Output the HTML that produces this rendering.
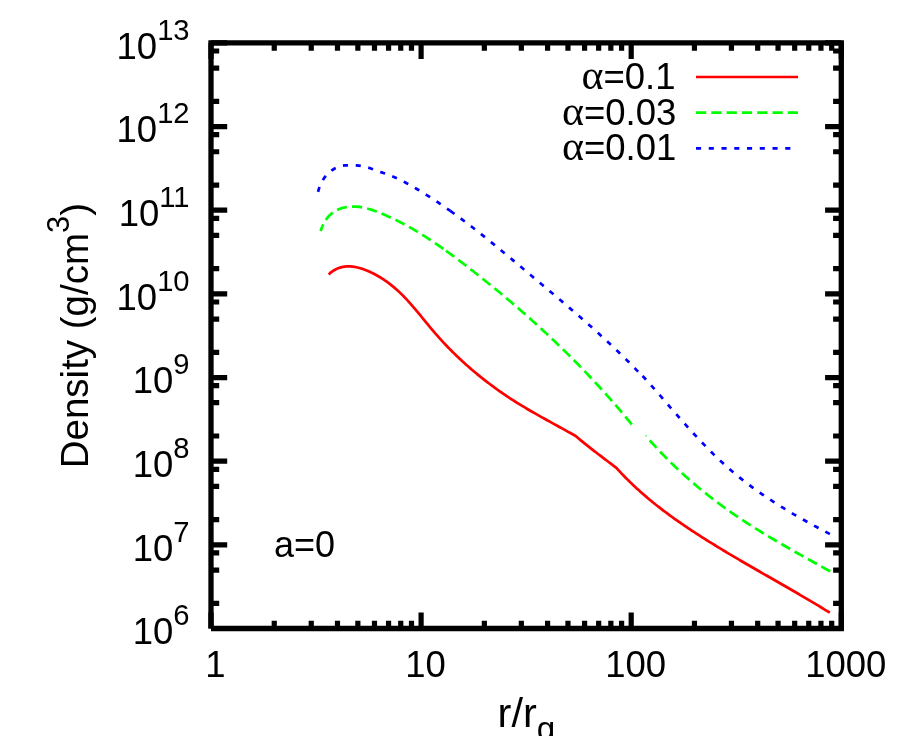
<!DOCTYPE html>
<html><head><meta charset="utf-8"><title>Density</title>
<style>html,body{margin:0;padding:0;background:#fff}body{width:900px;height:736px;overflow:hidden}svg{display:block;will-change:transform}.s{font-family:"Liberation Sans",sans-serif;fill:#000}.f{font-family:"Liberation Serif",serif;fill:#000}</style>
</head><body>
<svg width="900" height="736" viewBox="0 0 900 736">
<rect width="900" height="736" fill="#fff"/>
<path d="M328.64,274.39 L330.28,272.91 L331.96,271.60 L333.70,270.45 L335.47,269.45 L337.28,268.61 L339.12,267.91 L340.99,267.34 L342.88,266.92 L344.80,266.62 L346.72,266.45 L348.66,266.40 L350.60,266.46 L352.54,266.63 L354.49,266.90 L356.42,267.27 L358.36,267.72 L360.28,268.25 L362.20,268.85 L364.11,269.52 L366.00,270.24 L367.88,271.00 L369.74,271.82 L371.58,272.67 L373.41,273.57 L375.21,274.50 L376.98,275.47 L378.74,276.47 L380.46,277.51 L382.17,278.57 L383.85,279.67 L385.50,280.80 L387.13,281.96 L388.74,283.14 L390.33,284.35 L391.89,285.59 L393.43,286.85 L394.94,288.14 L396.44,289.44 L397.91,290.77 L399.37,292.12 L400.80,293.49 L402.21,294.88 L403.61,296.29 L404.99,297.71 L406.35,299.15 L407.70,300.60 L409.03,302.07 L410.36,303.54 L411.67,305.03 L412.97,306.53 L414.26,308.04 L415.55,309.56 L416.82,311.09 L418.10,312.62 L419.36,314.16 L420.63,315.70 L421.89,317.24 L423.15,318.79 L424.41,320.34 L425.67,321.89 L426.94,323.43 L428.21,324.98 L429.48,326.52 L430.76,328.06 L432.04,329.60 L433.33,331.13 L434.63,332.65 L435.94,334.16 L437.27,335.67 L438.60,337.17 L439.94,338.66 L441.28,340.14 L442.64,341.62 L444.01,343.09 L445.39,344.55 L446.77,346.00 L448.17,347.44 L449.57,348.88 L450.98,350.31 L452.40,351.73 L453.83,353.14 L455.27,354.54 L456.71,355.94 L458.17,357.33 L459.63,358.70 L461.10,360.07 L462.57,361.44 L464.06,362.79 L465.55,364.14 L467.05,365.47 L468.56,366.80 L470.07,368.12 L471.59,369.43 L473.12,370.74 L474.66,372.03 L476.20,373.32 L477.75,374.59 L479.31,375.86 L480.87,377.12 L482.44,378.37 L484.01,379.62 L485.60,380.85 L487.18,382.07 L488.78,383.29 L490.38,384.49 L491.98,385.69 L493.60,386.88 L495.21,388.06 L496.84,389.23 L498.46,390.39 L500.10,391.54 L501.74,392.69 L503.38,393.82 L505.03,394.94 L506.68,396.06 L508.34,397.16 L510.01,398.26 L511.67,399.35 L513.35,400.42 L515.02,401.49 L516.70,402.55 L518.39,403.60 L520.08,404.64 L521.77,405.67 L523.47,406.69 L525.17,407.71 L526.88,408.72 L528.59,409.73 L530.30,410.72 L532.01,411.72 L533.73,412.70 L535.45,413.68 L537.18,414.66 L538.91,415.64 L540.64,416.61 L542.37,417.58 L544.11,418.54 L545.84,419.51 L547.58,420.47 L549.33,421.43 L551.07,422.39 L552.82,423.35 L554.57,424.31 L556.32,425.27 L558.08,426.23 L559.83,427.20 L561.59,428.16 L563.35,429.13 L565.11,430.10 L566.87,431.08 L568.63,432.06 L570.39,433.04 L572.16,434.03 L573.92,435.02 L575.63,435.98 L577.13,437.29 L578.66,438.57 L580.20,439.85 L581.75,441.12 L583.30,442.38 L584.86,443.64 L586.42,444.89 L587.98,446.13 L589.55,447.37 L591.13,448.61 L592.70,449.84 L594.28,451.06 L595.86,452.28 L597.45,453.50 L599.04,454.72 L600.62,455.93 L602.22,457.15 L603.81,458.36 L605.40,459.56 L607.00,460.77 L608.59,461.98 L610.18,463.19 L611.78,464.39 L613.37,465.60 L614.97,466.81 L616.40,467.90 L617.74,469.41 L619.12,470.90 L620.50,472.38 L621.89,473.85 L623.29,475.30 L624.69,476.75 L626.11,478.18 L627.53,479.60 L628.96,481.01 L630.39,482.41 L631.84,483.80 L633.29,485.18 L634.75,486.55 L636.21,487.91 L637.69,489.26 L639.17,490.60 L640.66,491.93 L642.15,493.25 L643.65,494.56 L645.16,495.86 L646.67,497.15 L648.19,498.43 L649.72,499.71 L651.25,500.97 L652.79,502.23 L654.34,503.48 L655.89,504.72 L657.45,505.95 L659.01,507.18 L660.58,508.40 L662.15,509.61 L663.73,510.81 L665.32,512.00 L666.91,513.19 L668.50,514.37 L670.11,515.55 L671.71,516.72 L673.32,517.88 L674.94,519.03 L676.56,520.18 L678.19,521.33 L679.82,522.46 L681.45,523.59 L683.09,524.72 L684.73,525.84 L686.38,526.96 L688.03,528.07 L689.69,529.17 L691.35,530.27 L693.02,531.37 L694.68,532.46 L696.35,533.55 L698.03,534.63 L699.71,535.71 L701.39,536.79 L703.08,537.86 L704.76,538.93 L706.46,539.99 L708.15,541.06 L709.85,542.11 L711.55,543.17 L713.25,544.22 L714.96,545.27 L716.67,546.32 L718.38,547.36 L720.09,548.40 L721.81,549.44 L723.53,550.48 L725.25,551.51 L726.97,552.54 L728.70,553.57 L730.42,554.60 L732.15,555.62 L733.88,556.65 L735.61,557.67 L737.34,558.68 L739.08,559.70 L740.81,560.72 L742.55,561.73 L744.29,562.74 L746.03,563.75 L747.77,564.76 L749.51,565.77 L751.25,566.78 L752.99,567.78 L754.74,568.79 L756.48,569.79 L758.22,570.79 L759.97,571.79 L761.71,572.80 L763.46,573.80 L765.20,574.80 L766.94,575.79 L768.69,576.79 L770.43,577.79 L772.18,578.79 L773.92,579.79 L775.66,580.79 L777.40,581.78 L779.14,582.78 L780.88,583.78 L782.62,584.78 L784.36,585.78 L786.10,586.78 L787.84,587.78 L789.57,588.78 L791.31,589.78 L793.04,590.78 L794.77,591.78 L796.50,592.79 L798.22,593.79 L799.95,594.80 L801.67,595.80 L803.40,596.81 L805.11,597.82 L806.83,598.83 L808.55,599.84 L810.26,600.86 L811.97,601.87 L813.68,602.89 L815.38,603.91 L817.08,604.93 L818.78,605.95 L820.48,606.97 L822.17,608.00 L823.86,609.03 L825.55,610.06 L827.24,611.09 L828.92,612.13 L829.87,612.72" fill="none" stroke="#ff0000" stroke-width="2.7" stroke-linejoin="round"/>
<path d="M320.62,231.18 L321.25,229.25 L321.97,227.34 L322.77,225.47 L323.66,223.65 L324.63,221.88 L325.69,220.17 L326.84,218.54 L328.08,216.98 L329.42,215.52 L330.85,214.16 L332.37,212.90 L333.99,211.76 L335.70,210.74 L337.49,209.84 L339.34,209.05 L341.24,208.37 L343.18,207.81 L345.15,207.35 L347.13,207.00 L349.10,206.75 L351.08,206.61 L353.05,206.56 L355.02,206.60 L356.99,206.72 L358.95,206.92 L360.91,207.20 L362.86,207.55 L364.81,207.96 L366.75,208.43 L368.69,208.96 L370.62,209.53 L372.54,210.15 L374.45,210.81 L376.36,211.51 L378.26,212.23 L380.14,212.98 L382.02,213.75 L383.89,214.53 L385.75,215.33 L387.60,216.14 L389.43,216.97 L391.26,217.81 L393.08,218.66 L394.90,219.53 L396.70,220.41 L398.49,221.31 L400.28,222.22 L402.05,223.14 L403.82,224.07 L405.58,225.01 L407.34,225.97 L409.08,226.94 L410.82,227.92 L412.55,228.91 L414.27,229.91 L415.99,230.92 L417.70,231.94 L419.40,232.97 L421.09,234.01 L422.78,235.06 L424.47,236.12 L426.14,237.19 L427.82,238.27 L429.48,239.36 L431.14,240.46 L432.80,241.56 L434.45,242.67 L436.09,243.79 L437.73,244.91 L439.36,246.05 L440.99,247.19 L442.62,248.33 L444.24,249.49 L445.86,250.65 L446.00,250.75" fill="none" stroke="#00ff00" stroke-width="2.7" stroke-dasharray="10.2 5.1" stroke-dashoffset="2.9"/>
<path d="M446.00,250.75 L447.48,251.81 L449.09,252.98 L450.69,254.16 L452.30,255.34 L453.90,256.52 L455.49,257.71 L457.09,258.91 L458.68,260.10 L460.27,261.31 L461.86,262.51 L463.44,263.72 L465.02,264.93 L466.61,266.15 L468.18,267.37 L469.76,268.59 L471.34,269.81 L472.91,271.03 L474.48,272.26 L476.05,273.49 L477.62,274.73 L479.19,275.96 L480.75,277.20 L482.31,278.45 L483.87,279.69 L485.43,280.94 L486.99,282.19 L488.54,283.44 L490.10,284.70 L491.65,285.96 L493.20,287.22 L494.74,288.48 L496.29,289.75 L497.83,291.02 L499.37,292.29 L500.91,293.56 L502.44,294.84 L503.98,296.12 L505.51,297.41 L507.04,298.69 L508.56,299.98 L510.09,301.27 L511.61,302.57 L513.13,303.87 L514.65,305.17 L516.16,306.47 L517.68,307.78 L519.19,309.08 L520.70,310.40 L522.20,311.71 L523.70,313.03 L525.21,314.35 L526.70,315.67 L528.20,317.00 L529.69,318.32 L531.19,319.66 L532.67,320.99 L534.16,322.33 L535.64,323.67 L537.12,325.01 L538.60,326.36 L540.08,327.70 L541.55,329.06 L543.02,330.41 L544.49,331.77 L545.95,333.13 L547.42,334.49 L548.88,335.86 L550.33,337.22 L551.79,338.60 L553.24,339.97 L554.69,341.35 L556.13,342.73 L557.57,344.11 L559.01,345.50 L560.45,346.89 L561.89,348.28 L563.32,349.68 L564.75,351.07 L566.17,352.47 L567.59,353.88 L569.01,355.29 L570.43,356.69 L571.84,358.11 L573.25,359.52 L574.66,360.94 L576.06,362.36 L577.47,363.79 L578.86,365.22 L580.26,366.65 L581.65,368.08 L583.04,369.52 L584.42,370.96 L585.81,372.40 L587.19,373.85 L588.56,375.29 L589.93,376.75 L591.30,378.20 L592.67,379.66 L594.03,381.12 L595.39,382.58 L596.75,384.05 L598.10,385.52 L599.45,386.99 L600.80,388.47 L602.14,389.95 L603.48,391.43 L604.81,392.91 L606.14,394.40 L607.47,395.89 L608.80,397.39 L610.12,398.88 L611.44,400.38 L612.75,401.89 L614.06,403.39 L615.37,404.90 L616.67,406.42 L617.97,407.93 L619.27,409.45 L620.56,410.97 L621.85,412.50 L623.14,414.03 L624.42,415.56 L625.70,417.09 L626.97,418.63 L628.24,420.17 L629.51,421.71 L630.77,423.26 L631.74,424.45 L631.90,424.58" fill="none" stroke="#00ff00" stroke-width="2.7" stroke-dasharray="10.2 5.1"/>
<path d="M645.60,435.70 L645.93,435.97 L646.10,436.17" fill="none" stroke="#00ff00" stroke-width="2.7" stroke-dasharray="10.2 5.1"/>
<path d="M649.70,440.31 L649.87,440.50 L651.19,441.99 L652.53,443.48 L653.87,444.96 L655.22,446.44 L656.57,447.91 L657.94,449.37 L659.31,450.83 L660.68,452.28 L662.07,453.73 L663.46,455.16 L664.86,456.59 L666.26,458.02 L667.67,459.44 L669.09,460.85 L670.51,462.25 L671.94,463.65 L673.38,465.04 L674.83,466.43 L676.28,467.80 L677.73,469.18 L679.19,470.54 L680.66,471.90 L682.14,473.25 L683.62,474.60 L685.10,475.93 L686.60,477.27 L688.09,478.59 L689.60,479.91 L691.11,481.22 L692.62,482.53 L694.14,483.83 L695.67,485.12 L697.20,486.41 L698.74,487.69 L700.28,488.96 L701.83,490.23 L703.38,491.49 L704.94,492.74 L706.50,493.99 L708.07,495.23 L709.64,496.46 L711.22,497.68 L712.80,498.90 L714.39,500.12 L715.98,501.32 L717.58,502.52 L719.18,503.72 L720.79,504.90 L722.40,506.08 L724.01,507.26 L725.63,508.42 L727.25,509.58 L728.88,510.74 L730.51,511.88 L732.14,513.02 L733.78,514.16 L735.43,515.29 L737.07,516.41 L738.72,517.52 L740.38,518.63 L742.04,519.73 L743.70,520.83 L745.36,521.92 L747.03,523.01 L748.70,524.09 L750.38,525.17 L752.06,526.24 L753.74,527.30 L755.42,528.37 L757.11,529.42 L758.80,530.47 L760.50,531.52 L762.19,532.56 L763.89,533.60 L765.60,534.64 L767.30,535.67 L769.01,536.70 L770.72,537.72 L772.43,538.74 L774.15,539.76 L775.87,540.77 L777.59,541.78 L779.31,542.79 L781.03,543.79 L782.76,544.79 L784.49,545.79 L786.22,546.79 L787.95,547.78 L789.69,548.77 L791.42,549.76 L793.16,550.75 L794.90,551.73 L796.64,552.72 L798.39,553.70 L800.13,554.68 L801.88,555.66 L803.62,556.63 L805.37,557.61 L807.12,558.58 L808.87,559.56 L810.63,560.53 L812.38,561.50 L814.13,562.48 L815.89,563.45 L817.65,564.42 L819.40,565.39 L821.16,566.36 L822.92,567.33 L824.68,568.31 L826.44,569.28 L828.20,570.25 L829.96,571.22 L830.42,571.48" fill="none" stroke="#00ff00" stroke-width="2.7" stroke-dasharray="10.2 5.1"/>
<path d="M318.11,191.86 L318.58,189.97 L319.16,188.09 L319.84,186.22 L320.61,184.38 L321.48,182.57 L322.45,180.80 L323.51,179.08 L324.67,177.42 L325.92,175.83 L327.26,174.32 L328.69,172.89 L330.21,171.57 L331.82,170.35 L333.51,169.25 L335.27,168.27 L337.09,167.42 L338.97,166.71 L340.89,166.14 L342.84,165.73 L344.81,165.46 L346.80,165.31 L348.78,165.24 L350.76,165.22 L352.74,165.24 L354.70,165.32 L356.66,165.46 L358.62,165.66 L360.57,165.92 L362.51,166.25 L364.44,166.66 L366.37,167.13 L368.29,167.66 L370.21,168.25 L372.12,168.90 L374.02,169.60 L375.91,170.34 L377.80,171.06 L379.69,171.74 L381.56,172.35 L383.43,172.95 L385.29,173.57 L387.15,174.23 L389.00,174.92 L390.84,175.65 L392.68,176.40 L394.51,177.19 L396.33,178.01 L398.15,178.85 L399.96,179.72 L401.76,180.62 L403.56,181.54 L405.35,182.48 L407.13,183.44 L408.91,184.42 L410.68,185.41 L412.44,186.42 L414.20,187.44 L415.95,188.47 L417.69,189.51 L419.43,190.55 L421.16,191.60 L422.88,192.66 L424.60,193.73 L426.31,194.80 L428.01,195.88 L429.71,196.96 L431.40,198.05 L433.09,199.15 L434.77,200.25 L436.44,201.36 L438.11,202.47 L439.78,203.59 L441.43,204.71 L443.09,205.85 L444.74,206.98 L446.38,208.12 L448.02,209.27 L449.65,210.42 L450.40,210.95" fill="none" stroke="#0000ff" stroke-width="2.7" stroke-dasharray="5.1 7.65"/>
<path d="M450.40,210.95 L451.28,211.58 L452.90,212.74 L454.52,213.91 L456.14,215.08 L457.75,216.25 L459.36,217.43 L460.96,218.62 L462.56,219.81 L464.15,221.00 L465.74,222.20 L467.33,223.40 L468.91,224.61 L470.49,225.82 L472.07,227.03 L473.64,228.25 L475.21,229.47 L476.78,230.69 L478.35,231.92 L479.91,233.15 L481.47,234.39 L483.02,235.62 L484.58,236.87 L486.13,238.11 L487.68,239.36 L489.23,240.60 L490.77,241.86 L492.31,243.11 L493.85,244.37 L495.39,245.63 L496.93,246.89 L498.47,248.15 L500.00,249.42 L501.54,250.68 L503.07,251.95 L504.60,253.23 L506.13,254.50 L507.66,255.77 L509.19,257.05 L510.71,258.33 L512.24,259.61 L513.77,260.89 L515.29,262.17 L516.82,263.45 L518.34,264.73 L519.87,266.02 L521.39,267.30 L522.92,268.59 L524.45,269.88 L525.97,271.16 L527.50,272.45 L529.03,273.74 L530.55,275.02 L532.08,276.31 L533.61,277.60 L535.14,278.89 L536.67,280.17 L538.21,281.46 L539.74,282.75 L541.27,284.04 L542.80,285.33 L544.34,286.62 L545.87,287.91 L547.40,289.20 L548.94,290.49 L550.47,291.78 L552.00,293.07 L553.54,294.36 L555.07,295.66 L556.60,296.95 L558.13,298.25 L559.66,299.54 L561.20,300.84 L562.72,302.14 L564.25,303.44 L565.78,304.74 L567.31,306.04 L568.84,307.35 L570.36,308.65 L571.88,309.96 L573.41,311.27 L574.93,312.58 L576.45,313.89 L577.96,315.20 L579.48,316.52 L580.99,317.84 L582.51,319.16 L584.02,320.48 L585.52,321.80 L587.03,323.12 L588.53,324.45 L590.03,325.78 L591.53,327.11 L593.03,328.45 L594.53,329.78 L596.02,331.12 L597.51,332.46 L598.99,333.81 L600.47,335.15 L601.95,336.50 L603.43,337.85 L604.91,339.21 L606.38,340.57 L607.84,341.93 L609.31,343.29 L610.77,344.66 L612.22,346.03 L613.68,347.40 L615.13,348.78 L616.57,350.15 L618.01,351.54 L619.45,352.92 L620.89,354.31 L622.31,355.71 L623.74,357.10 L625.16,358.50 L626.58,359.91 L627.99,361.31 L629.40,362.73 L630.80,364.14 L632.20,365.56 L633.59,366.99 L634.98,368.41 L636.36,369.84 L636.89,370.40 L642.50,375.96" fill="none" stroke="#0000ff" stroke-width="2.7" stroke-dasharray="5.1 7.65"/>
<path d="M642.50,375.96 L644.33,377.78 L645.66,379.25 L646.99,380.73 L648.32,382.21 L649.64,383.70 L650.97,385.19 L652.29,386.68 L653.61,388.18 L654.93,389.68 L656.25,391.18 L657.56,392.68 L658.88,394.18 L660.20,395.69 L661.51,397.20 L662.83,398.71 L664.14,400.21 L665.46,401.73 L666.77,403.24 L668.09,404.75 L669.40,406.26 L670.72,407.77 L672.04,409.28 L673.36,410.79 L674.67,412.30 L676.00,413.81 L677.32,415.32 L678.64,416.83 L679.97,418.33 L681.30,419.84 L682.63,421.34 L683.96,422.84 L685.29,424.33 L686.63,425.83 L687.97,427.32 L689.31,428.81 L690.66,430.29 L692.01,431.78 L693.36,433.25 L694.72,434.73 L696.08,436.20 L697.44,437.66 L698.81,439.13 L700.19,440.58 L701.56,442.04 L702.94,443.48 L704.33,444.92 L705.72,446.36 L707.12,447.79 L708.52,449.21 L709.93,450.63 L711.34,452.04 L712.76,453.45 L714.18,454.85 L715.61,456.24 L717.05,457.62 L718.49,459.00 L719.94,460.37 L721.40,461.73 L722.86,463.08 L724.33,464.42 L725.80,465.76 L727.29,467.09 L728.78,468.40 L730.28,469.71 L731.79,471.01 L733.30,472.30 L734.82,473.58 L736.36,474.86 L737.89,476.12 L739.44,477.37 L740.99,478.61 L742.55,479.85 L744.12,481.08 L745.69,482.29 L747.28,483.50 L748.86,484.70 L750.46,485.90 L752.06,487.08 L753.67,488.26 L755.28,489.42 L756.90,490.58 L758.53,491.74 L760.16,492.88 L761.80,494.02 L763.44,495.15 L765.09,496.27 L766.75,497.38 L768.41,498.49 L770.08,499.59 L771.75,500.68 L773.43,501.77 L775.11,502.85 L776.79,503.92 L778.48,504.99 L780.18,506.05 L781.88,507.11 L783.58,508.15 L785.29,509.20 L787.01,510.23 L788.72,511.26 L790.45,512.29 L792.17,513.30 L793.90,514.32 L795.63,515.32 L797.37,516.33 L799.11,517.32 L800.85,518.32 L802.59,519.30 L804.34,520.29 L806.10,521.26 L807.85,522.24 L809.61,523.20 L811.37,524.17 L813.13,525.13 L814.89,526.08 L816.66,527.03 L818.43,527.98 L820.20,528.92 L821.97,529.86 L823.75,530.80 L825.52,531.73 L827.30,532.66 L829.08,533.58 L830.82,534.48" fill="none" stroke="#0000ff" stroke-width="2.7" stroke-dasharray="5.1 7.65"/>
<path d="M696.0,77.0 H798.1" stroke="#ff0000" stroke-width="2.7"/>
<path d="M696.0,112.6 H798.1" stroke="#00ff00" stroke-width="2.7" stroke-dasharray="10.2 5.1"/>
<path d="M696.0,148.4 H797.5" stroke="#0000ff" stroke-width="2.7" stroke-dasharray="5.1 7.65"/>
<path d="M211.00,628.50 h16.20 M841.30,628.50 h-16.20 M211.00,603.32 h8.20 M841.30,603.32 h-8.20 M211.00,570.03 h8.20 M841.30,570.03 h-8.20 M211.00,552.95 h8.20 M841.30,552.95 h-8.20 M211.00,544.84 h16.20 M841.30,544.84 h-16.20 M211.00,519.66 h8.20 M841.30,519.66 h-8.20 M211.00,486.37 h8.20 M841.30,486.37 h-8.20 M211.00,469.29 h8.20 M841.30,469.29 h-8.20 M211.00,461.19 h16.20 M841.30,461.19 h-16.20 M211.00,436.00 h8.20 M841.30,436.00 h-8.20 M211.00,402.71 h8.20 M841.30,402.71 h-8.20 M211.00,385.64 h8.20 M841.30,385.64 h-8.20 M211.00,377.53 h16.20 M841.30,377.53 h-16.20 M211.00,352.35 h8.20 M841.30,352.35 h-8.20 M211.00,319.05 h8.20 M841.30,319.05 h-8.20 M211.00,301.98 h8.20 M841.30,301.98 h-8.20 M211.00,293.87 h16.20 M841.30,293.87 h-16.20 M211.00,268.69 h8.20 M841.30,268.69 h-8.20 M211.00,235.40 h8.20 M841.30,235.40 h-8.20 M211.00,218.32 h8.20 M841.30,218.32 h-8.20 M211.00,210.21 h16.20 M841.30,210.21 h-16.20 M211.00,185.03 h8.20 M841.30,185.03 h-8.20 M211.00,151.74 h8.20 M841.30,151.74 h-8.20 M211.00,134.66 h8.20 M841.30,134.66 h-8.20 M211.00,126.56 h16.20 M841.30,126.56 h-16.20 M211.00,101.37 h8.20 M841.30,101.37 h-8.20 M211.00,68.08 h8.20 M841.30,68.08 h-8.20 M211.00,51.01 h8.20 M841.30,51.01 h-8.20 M211.00,42.90 h16.20 M841.30,42.90 h-16.20 M211.00,628.50 v-16.00 M211.00,42.90 v16.00 M274.25,628.50 v-7.80 M274.25,42.90 v7.80 M311.24,628.50 v-7.80 M311.24,42.90 v7.80 M337.49,628.50 v-7.80 M337.49,42.90 v7.80 M357.85,628.50 v-7.80 M357.85,42.90 v7.80 M374.49,628.50 v-7.80 M374.49,42.90 v7.80 M388.56,628.50 v-7.80 M388.56,42.90 v7.80 M400.74,628.50 v-7.80 M400.74,42.90 v7.80 M411.49,628.50 v-7.80 M411.49,42.90 v7.80 M421.10,628.50 v-16.00 M421.10,42.90 v16.00 M484.35,628.50 v-7.80 M484.35,42.90 v7.80 M521.34,628.50 v-7.80 M521.34,42.90 v7.80 M547.59,628.50 v-7.80 M547.59,42.90 v7.80 M567.95,628.50 v-7.80 M567.95,42.90 v7.80 M584.59,628.50 v-7.80 M584.59,42.90 v7.80 M598.66,628.50 v-7.80 M598.66,42.90 v7.80 M610.84,628.50 v-7.80 M610.84,42.90 v7.80 M621.59,628.50 v-7.80 M621.59,42.90 v7.80 M631.20,628.50 v-16.00 M631.20,42.90 v16.00 M694.45,628.50 v-7.80 M694.45,42.90 v7.80 M731.44,628.50 v-7.80 M731.44,42.90 v7.80 M757.69,628.50 v-7.80 M757.69,42.90 v7.80 M778.05,628.50 v-7.80 M778.05,42.90 v7.80 M794.69,628.50 v-7.80 M794.69,42.90 v7.80 M808.76,628.50 v-7.80 M808.76,42.90 v7.80 M820.94,628.50 v-7.80 M820.94,42.90 v7.80 M831.69,628.50 v-7.80 M831.69,42.90 v7.80 M841.30,628.50 v-16.00 M841.30,42.90 v16.00" fill="none" stroke="#000" stroke-width="5.20"/>
<path d="M211.00,628.50 V42.90 H841.30 V628.50 H211.00" fill="none" stroke="#000" stroke-width="5.30" stroke-linejoin="miter"/>
<text class="s" font-size="36.5" text-anchor="end" x="189.6" y="644.30">10<tspan font-size="29.2" dy="-18.9">6</tspan></text>
<text class="s" font-size="36.5" text-anchor="end" x="189.6" y="560.64">10<tspan font-size="29.2" dy="-18.9">7</tspan></text>
<text class="s" font-size="36.5" text-anchor="end" x="189.6" y="476.99">10<tspan font-size="29.2" dy="-18.9">8</tspan></text>
<text class="s" font-size="36.5" text-anchor="end" x="189.6" y="393.33">10<tspan font-size="29.2" dy="-18.9">9</tspan></text>
<text class="s" font-size="36.5" text-anchor="end" x="189.6" y="309.67">10<tspan font-size="29.2" dy="-18.9">10</tspan></text>
<text class="s" font-size="36.5" text-anchor="end" x="189.6" y="226.01">10<tspan font-size="29.2" dy="-18.9">11</tspan></text>
<text class="s" font-size="36.5" text-anchor="end" x="189.6" y="142.36">10<tspan font-size="29.2" dy="-18.9">12</tspan></text>
<text class="s" font-size="36.5" text-anchor="end" x="189.6" y="58.70">10<tspan font-size="29.2" dy="-18.9">13</tspan></text>
<text class="s" font-size="36.5" text-anchor="middle" x="215.50" y="676.5">1</text>
<text class="s" font-size="36.5" text-anchor="middle" x="425.60" y="676.5">10</text>
<text class="s" font-size="36.5" text-anchor="middle" x="635.70" y="676.5">100</text>
<text class="s" font-size="36.5" text-anchor="middle" x="845.80" y="676.5">1000</text>
<text class="s" font-size="41.5" x="497.6" y="727.4">r/r<tspan font-size="33.2" dy="12.6">g</tspan></text>
<text class="s" font-size="38.5" transform="translate(87.8,468.3) rotate(-90)">Density (g/cm<tspan font-size="30.8" dy="-18.5">3</tspan><tspan dy="18.5">)</tspan></text>
<text class="s" font-size="36" x="274" y="557">a=0</text>
<text class="f" font-size="42" x="581.40" y="89.20">α</text>
<text class="s" font-size="36.5" x="603.40" y="89.20">=0.1</text>
<text class="f" font-size="42" x="561.90" y="124.60">α</text>
<text class="s" font-size="36.5" x="583.90" y="124.60">=0.03</text>
<text class="f" font-size="42" x="561.90" y="160.30">α</text>
<text class="s" font-size="36.5" x="583.90" y="160.30">=0.01</text>
</svg>
</body></html>
